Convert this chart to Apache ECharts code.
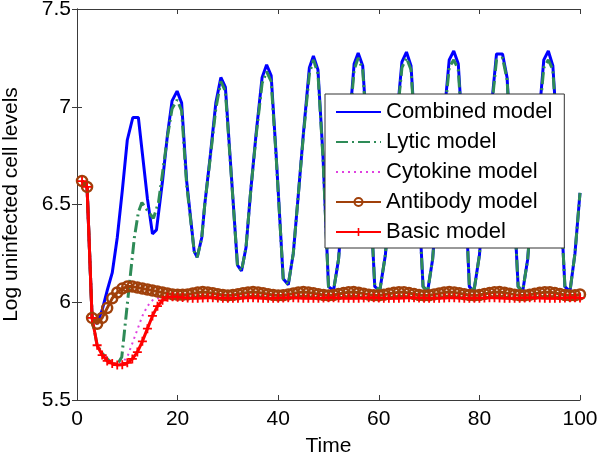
<!DOCTYPE html>
<html>
<head>
<meta charset="utf-8">
<script src="https://cdn.jsdelivr.net/npm/echarts@6/dist/echarts.min.js"></script>
<style>
html,body{margin:0;padding:0;background:#fff;}
#chart{width:600px;height:454px;}
</style>
</head>
<body>
<div id="chart"></div>
<script>
// ---- Data ----
const xTicks = [0, 20, 40, 60, 80, 100];
const yTicks = [5.5, 6, 6.5, 7, 7.5];
const seriesNames = ['Combined model', 'Lytic model', 'Cytokine model', 'Antibody model', 'Basic model'];

const combinedT = [1,2,3,4,5,6,7,8,9,10,11.1,12.2,13,14,15,15.8,17,18,18.9,19.9,20.8,21.8,23.3,23.9,24.8,25.4,26.5,27.6,28.6,29.5,30.5,31.9,32.7,33.6,34.5,35.6,36.8,37.7,38.6,39.6,41.0,42.0,43.0,44.0,45.0,46.2,47.0,47.9,48.9,50.0,51.0,52.0,53.0,54.0,55.1,55.9,56.8,57.8,59.2,60.2,61.3,62.4,63.5,64.6,65.5,66.4,67.4,68.8,69.7,70.7,71.7,72.8,74.0,74.9,75.8,76.8,78.0,78.9,80.0,81.0,82.1,83.4,84.6,85.5,86.5,87.7,88.6,89.6,90.6,91.7,92.8,93.7,94.6,95.6,97.0,98.0,99.0,100];
const combinedV = [6.62,6.59,5.92,5.89,5.96,6.06,6.15,6.33,6.57,6.83,6.945,6.945,6.76,6.53,6.35,6.37,6.62,6.86,7.03,7.08,7.02,6.62,6.26,6.23,6.33,6.50,6.75,7.02,7.15,7.10,6.72,6.19,6.16,6.28,6.56,6.86,7.15,7.215,7.16,6.75,6.12,6.09,6.25,6.55,6.86,7.20,7.26,7.19,6.75,6.08,6.06,6.22,6.55,6.87,7.22,7.275,7.21,6.80,6.08,6.06,6.24,6.58,6.92,7.23,7.28,7.21,6.80,6.08,6.055,6.22,6.55,6.90,7.24,7.285,7.22,6.80,6.08,6.055,6.24,6.56,6.92,7.27,7.27,7.15,6.70,6.08,6.055,6.22,6.55,6.90,7.24,7.285,7.21,6.80,6.08,6.055,6.25,6.56];

const lyticT = [1,2,3,4,5,6,7,8,8.9,10,11.4,12.2,12.9,14.4,15.2,16.2,17,18,18.9,19.9,20.8,21.8,23.3,23.9,24.8,25.4,26.5,27.6,28.6,29.5,30.5,31.9,32.7,33.6,34.5,35.6,36.8,37.7,38.6,39.6,41.0,42.0,43.0,44.0,45.0,46.2,47.0,47.9,48.9,50.0,51.0,52.0,53.0,54.0,55.1,55.9,56.8,57.8,59.2,60.2,61.3,62.4,63.5,64.6,65.5,66.4,67.4,68.8,69.7,70.7,71.7,72.8,74.0,74.9,75.8,76.8,78.0,78.9,80.0,81.0,82.1,83.4,84.6,85.5,86.5,87.7,88.6,89.6,90.6,91.7,92.8,93.7,94.6,95.6,97.0,98.0,99.0,100];
const lyticV = [6.62,6.59,5.92,5.78,5.74,5.71,5.69,5.68,5.72,5.99,6.33,6.46,6.51,6.455,6.43,6.51,6.66,6.85,6.99,7.035,6.98,6.60,6.26,6.23,6.33,6.50,6.74,6.99,7.13,7.08,6.71,6.19,6.16,6.28,6.56,6.85,7.12,7.18,7.13,6.74,6.12,6.09,6.25,6.55,6.85,7.17,7.24,7.17,6.74,6.08,6.06,6.22,6.55,6.86,7.19,7.25,7.19,6.79,6.08,6.06,6.24,6.57,6.91,7.20,7.25,7.19,6.79,6.08,6.055,6.22,6.55,6.89,7.20,7.24,7.19,6.79,6.08,6.055,6.24,6.56,6.91,7.24,7.25,7.14,6.69,6.08,6.055,6.22,6.55,6.89,7.20,7.24,7.19,6.79,6.08,6.055,6.25,6.56];

const cytokineT = [1,2,3,4,5,6,7,8,9,10,11,12,13,14,15,16,17,30,50,70,100];
const cytokineV = [6.62,6.59,5.92,5.78,5.74,5.71,5.69,5.68,5.69,5.72,5.79,5.86,5.93,5.98,6.01,6.02,6.025,6.02,6.02,6.02,6.02];

const antibodyT = [1,2,3,4,5,6,7,8,9,10,11,12,13,14,15,16,17,18,19,20,21,22,23,24,25,26,27,28,29,30,31,32,33,34,35,36,37,38,39,40,41,42,43,44,45,46,47,48,49,50,51,52,53,54,55,56,57,58,59,60,61,62,63,64,65,66,67,68,69,70,71,72,73,74,75,76,77,78,79,80,81,82,83,84,85,86,87,88,89,90,91,92,93,94,95,96,97,98,99,100];
const antibodyV = [6.62,6.59,5.92,5.89,5.92,5.97,6.02,6.05,6.07,6.08,6.08,6.075,6.07,6.065,6.06,6.055,6.05,6.045,6.04,6.038,6.038,6.04,6.045,6.05,6.052,6.05,6.046,6.041,6.037,6.035,6.037,6.041,6.046,6.05,6.052,6.05,6.046,6.041,6.037,6.035,6.036,6.04,6.045,6.05,6.052,6.05,6.046,6.041,6.037,6.035,6.037,6.042,6.047,6.051,6.052,6.049,6.044,6.039,6.036,6.035,6.038,6.043,6.048,6.051,6.051,6.047,6.042,6.037,6.035,6.036,6.04,6.045,6.05,6.052,6.05,6.046,6.041,6.037,6.035,6.037,6.042,6.047,6.051,6.052,6.049,6.044,6.039,6.036,6.035,6.038,6.043,6.048,6.051,6.051,6.047,6.042,6.037,6.035,6.036,6.04];

const basicT = [1,2,3,4,5,6,7,8,9,10,11,12,13,14,15,16,17,18,19,20,21,22,23,24,25,26,27,28,29,30,31,32,33,34,35,36,37,38,39,40,41,42,43,44,45,46,47,48,49,50,51,52,53,54,55,56,57,58,59,60,61,62,63,64,65,66,67,68,69,70,71,72,73,74,75,76,77,78,79,80,81,82,83,84,85,86,87,88,89,90,91,92,93,94,95,96,97,98,99,100];
const basicV = [6.62,6.59,5.92,5.78,5.73,5.70,5.687,5.679,5.68,5.69,5.71,5.745,5.80,5.865,5.93,5.98,6.01,6.025,6.028,6.026,6.024,6.022,6.021,6.021,6.022,6.023,6.023,6.022,6.021,6.02,6.02,6.021,6.022,6.023,6.023,6.022,6.021,6.02,6.02,6.021,6.022,6.023,6.023,6.022,6.021,6.02,6.02,6.021,6.022,6.023,6.023,6.022,6.021,6.02,6.02,6.021,6.022,6.023,6.023,6.022,6.021,6.02,6.02,6.021,6.022,6.023,6.023,6.022,6.021,6.02,6.02,6.021,6.022,6.023,6.023,6.022,6.021,6.02,6.02,6.021,6.022,6.023,6.023,6.022,6.021,6.02,6.02,6.021,6.022,6.023,6.023,6.022,6.021,6.02,6.02,6.021,6.022,6.023,6.023,6.022];

// ---- Build chart ----
const pairs = (t, v) => t.map((x, i) => [x, v[i]]);
const FONT = 'Liberation Sans, Arial, Helvetica, sans-serif';
const AXC = '#3a3a3a';
const plus = 'path://M4,0h2v4h4v2h-4v4h-2v-4h-4v-2h4z';

const chart = echarts.init(document.getElementById('chart'), null, {renderer: 'canvas'});
const xMin = xTicks[0], xMax = xTicks[xTicks.length - 1];
const yMin = yTicks[0], yMax = yTicks[yTicks.length - 1];

const baseAxis = {
  axisLine: {show: true, lineStyle: {color: AXC, width: 1}},
  axisTick: {show: true, inside: true, length: 5, lineStyle: {color: AXC}},
  splitLine: {show: false}
};
const noMarker = {color: 'rgba(0,0,0,0)', borderWidth: 0, borderColor: 'rgba(0,0,0,0)'};

chart.setOption({
  animation: false,
  backgroundColor: '#fff',
  textStyle: {fontFamily: FONT},
  grid: {left: 77, right: 20, top: 9, bottom: 54, containLabel: false, outerBoundsMode: 'none'},
  xAxis: [
    Object.assign({}, baseAxis, {
      type: 'value', min: xMin, max: xMax, interval: 20, position: 'bottom',
      name: 'Time', nameLocation: 'middle', nameGap: 36,
      nameTextStyle: {fontSize: 21, color: '#000', fontFamily: FONT},
      axisLabel: {fontSize: 21, color: '#000', margin: 9, fontFamily: FONT}
    }),
    Object.assign({}, baseAxis, {
      type: 'value', min: xMin, max: xMax, interval: 20, position: 'top',
      axisLabel: {show: false}
    })
  ],
  yAxis: [
    Object.assign({}, baseAxis, {
      type: 'value', min: yMin, max: yMax, interval: 0.5, position: 'left',
      name: 'Log uninfected cell levels', nameLocation: 'middle', nameGap: 55,
      nameTextStyle: {fontSize: 21, color: '#000', fontFamily: FONT},
      axisLabel: {fontSize: 21, color: '#000', margin: 6, fontFamily: FONT}
    }),
    Object.assign({}, baseAxis, {
      type: 'value', min: yMin, max: yMax, interval: 0.5, position: 'right',
      axisLabel: {show: false}
    })
  ],
  legend: {
    orient: 'vertical',
    left: 325, top: 94,
    backgroundColor: '#fff',
    borderColor: '#333', borderWidth: 1, borderRadius: 0,
    padding: [7, 12, 5, 10],
    itemWidth: 45, itemHeight: 10, itemGap: 8,
    textStyle: {fontSize: 22, color: '#000', fontFamily: FONT, lineHeight: 22},
    data: [
      {name: seriesNames[0], itemStyle: noMarker},
      {name: seriesNames[1], itemStyle: noMarker},
      {name: seriesNames[2], itemStyle: noMarker},
      {name: seriesNames[3]},
      {name: seriesNames[4]}
    ]
  },
  series: [
    {
      name: seriesNames[0], type: 'line', showSymbol: false, symbol: 'none',
      data: pairs(combinedT, combinedV),
      lineStyle: {color: '#0000ff', width: 3}, itemStyle: {color: '#0000ff'}
    },
    {
      name: seriesNames[1], type: 'line', showSymbol: false, symbol: 'none',
      data: pairs(lyticT, lyticV),
      lineStyle: {color: '#2e8b57', width: 3, type: [12, 4, 2, 4]}, itemStyle: {color: '#2e8b57'}
    },
    {
      name: seriesNames[2], type: 'line', showSymbol: false, symbol: 'none',
      data: pairs(cytokineT, cytokineV),
      lineStyle: {color: '#e040e0', width: 2, type: [2, 4]}, itemStyle: {color: '#e040e0'}
    },
    {
      name: seriesNames[3], type: 'line', symbol: 'circle', symbolSize: 10, showSymbol: true,
      data: pairs(antibodyT, antibodyV),
      lineStyle: {color: '#a0400a', width: 3},
      itemStyle: {color: 'rgba(0,0,0,0)', borderColor: '#a0400a', borderWidth: 2.5}
    },
    {
      name: seriesNames[4], type: 'line', symbol: plus, symbolSize: 9, showSymbol: true,
      data: pairs(basicT, basicV),
      lineStyle: {color: '#ff0000', width: 3},
      itemStyle: {color: '#ff0000'}
    }
  ]
});
</script>
</body>
</html>
